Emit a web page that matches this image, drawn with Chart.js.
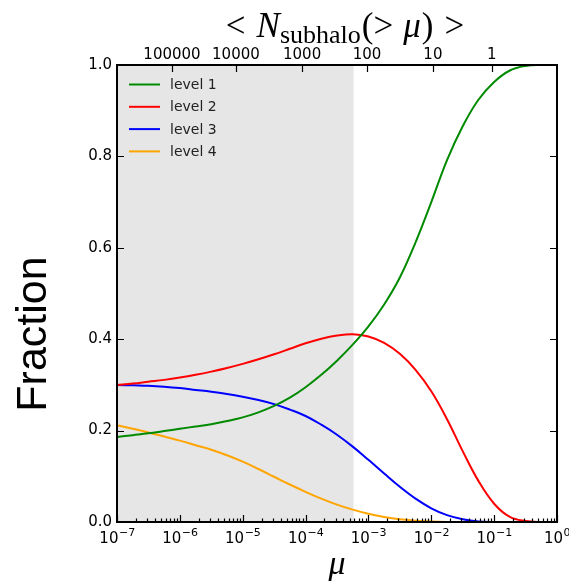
<!DOCTYPE html>
<html>
<head>
<meta charset="utf-8">
<script src="https://cdn.jsdelivr.net/npm/chart.js@4.4.1/dist/chart.umd.min.js"></script>
<style>
  html, body { margin: 0; padding: 0; background: #ffffff; }
  #contenedor { width: 569px; height: 583px; position: relative; }
</style>
</head>
<body>
<div id="contenedor"><canvas id="fraccionChart"></canvas></div>
<script>
// Valores de mu (eje x, escala logarítmica, cada 0.25 dex)
const MU = [1e-7, 1.78e-7, 3.16e-7, 5.62e-7,
            1e-6, 1.78e-6, 3.16e-6, 5.62e-6,
            1e-5, 1.78e-5, 3.16e-5, 5.62e-5,
            1e-4, 1.78e-4, 3.16e-4, 5.62e-4,
            1e-3, 1.78e-3, 3.16e-3, 5.62e-3,
            1e-2, 1.78e-2, 3.16e-2, 5.62e-2,
            1e-1, 1.78e-1, 3.16e-1, 5.62e-1, 1];

// Fracción por nivel
const LEVEL1 = [0.186, 0.190, 0.194, 0.199, 0.204, 0.209, 0.214, 0.221,
                0.229, 0.240, 0.254, 0.272, 0.295, 0.322, 0.353, 0.388,
                0.428, 0.476, 0.535, 0.612, 0.700, 0.792, 0.866, 0.924,
                0.963, 0.988, 0.998, 1.000, 1.000];
const LEVEL2 = [0.300, 0.303, 0.307, 0.311, 0.316, 0.322, 0.329, 0.337,
                0.346, 0.356, 0.367, 0.379, 0.391, 0.401, 0.408, 0.411,
                0.406, 0.392, 0.368, 0.333, 0.286, 0.225, 0.155, 0.090,
                0.040, 0.011, 0.002, 0.000, 0.000];
const LEVEL3 = [0.300, 0.299, 0.298, 0.296, 0.293, 0.289, 0.285, 0.280,
                0.274, 0.267, 0.258, 0.246, 0.232, 0.213, 0.191, 0.165,
                0.136, 0.106, 0.077, 0.051, 0.030, 0.015, 0.006, 0.001,
                0.000, 0.000, 0.000, 0.000, 0.000];
const LEVEL4 = [0.212, 0.204, 0.196, 0.187, 0.178, 0.168, 0.158, 0.146,
                0.132, 0.116, 0.099, 0.082, 0.066, 0.051, 0.038, 0.027,
                0.018, 0.011, 0.006, 0.003, 0.001, 0.000, 0.000, 0.000,
                0.000, 0.000, 0.000, 0.000, 0.000];

const SERIES = ['level 1', 'level 2', 'level 3', 'level 4'];
const COLORES = ['#008a00', '#ff0000', '#0000ff', '#ffa500'];

// Eje superior: <N_subhalo(> mu)> en la posición de mu correspondiente
const TOP_TICK_MU = [7.5e-7, 7.8e-6, 8.8e-5, 9.5e-4, 1.06e-2, 9.2e-2];
const TOP_TICK_LABELS = ['100000', '10000', '1000', '100', '10', '1'];

// Región sombreada
const SHADE_MIN = 1e-7;
const SHADE_MAX = 5.8e-4;

const Y_TICKS = [0, 0.2, 0.4, 0.6, 0.8, 1.0];
const X_EXPONENTES = [-7, -6, -5, -4, -3, -2, -1, 0];

function puntos(valores) {
    return MU.map((m, i) => ({ x: m, y: valores[i] }));
}

// Plugin: fondo, sombreado, marco, ticks hacia dentro, títulos y leyenda
const decoracion = {
    id: 'decoracion',
    beforeDraw(chart) {
        const ctx = chart.ctx;
        ctx.save();
        ctx.fillStyle = '#ffffff';
        ctx.fillRect(0, 0, chart.width, chart.height);
        ctx.restore();
    },
    beforeDatasetsDraw(chart) {
        const { ctx, chartArea, scales } = chart;
        const x0 = scales.x.getPixelForValue(SHADE_MIN);
        const x1 = scales.x.getPixelForValue(SHADE_MAX);
        ctx.save();
        ctx.fillStyle = '#e6e6e6';
        ctx.fillRect(x0, chartArea.top, x1 - x0, chartArea.bottom - chartArea.top);
        ctx.restore();
    },
    afterDraw(chart) {
        const { ctx, chartArea, scales } = chart;
        const { left, right, top, bottom } = chartArea;
        ctx.save();
        ctx.strokeStyle = '#000000';
        ctx.lineWidth = 1.2;
        ctx.beginPath();
        // ticks eje x inferior (mayores y menores)
        scales.x.ticks.forEach(t => {
            const px = Math.round(scales.x.getPixelForValue(t.value)) + 0.5;
            const largo = t.major ? 7 : 3.5;
            ctx.moveTo(px, bottom);
            ctx.lineTo(px, bottom - largo);
        });
        // ticks eje superior
        scales.x2.ticks.forEach(t => {
            const px = Math.round(scales.x2.getPixelForValue(t.value)) + 0.5;
            ctx.moveTo(px, top);
            ctx.lineTo(px, top + 7);
        });
        // ticks izquierda y derecha
        Y_TICKS.forEach(v => {
            const py = Math.round(scales.y.getPixelForValue(v)) + 0.5;
            ctx.moveTo(left, py);
            ctx.lineTo(left + 7, py);
            ctx.moveTo(right, py);
            ctx.lineTo(right - 7, py);
        });
        ctx.stroke();

        // marco
        ctx.lineWidth = 2;
        ctx.strokeRect(left, top, right - left, bottom - top);

        // etiquetas del eje x: 10 con exponente
        ctx.fillStyle = '#000000';
        ctx.textBaseline = 'alphabetic';
        ctx.textAlign = 'left';
        X_EXPONENTES.forEach(e => {
            const px = scales.x.getPixelForValue(Math.pow(10, e));
            const exp = e < 0 ? '\u2212' + Math.abs(e) : String(e);
            ctx.font = '15px "DejaVu Sans", sans-serif';
            const wBase = ctx.measureText('10').width;
            ctx.font = '11px "DejaVu Sans", sans-serif';
            const wExp = ctx.measureText(exp).width;
            const x0 = px - (wBase + wExp) / 2;
            ctx.font = '15px "DejaVu Sans", sans-serif';
            ctx.fillText('10', x0, 543);
            ctx.font = '11px "DejaVu Sans", sans-serif';
            ctx.fillText(exp, x0 + wBase + 0.5, 536);
        });

        // título del eje y
        ctx.save();
        ctx.translate(46, 334);
        ctx.rotate(-Math.PI / 2);
        ctx.font = '43px "Liberation Sans", "DejaVu Sans", sans-serif';
        ctx.textAlign = 'center';
        ctx.fillText('Fraction', 0, 0);
        ctx.restore();

        // título del eje x
        ctx.font = 'italic 34px "Liberation Serif", "DejaVu Serif", serif';
        ctx.textAlign = 'center';
        ctx.fillText('\u03BC', (left + right) / 2, 574);

        // título del eje superior: < N_subhalo(> mu) >
        ctx.textAlign = 'left';
        const serif = '"Liberation Serif", "DejaVu Serif", serif';
        const partes = [
            { t: '<', f: '35px ' + serif, dy: 0, gap: 11 },
            { t: 'N', f: 'italic 35px ' + serif, dy: 0, gap: 0 },
            { t: 'subhalo', f: '26px ' + serif, dy: 6, gap: 1 },
            { t: '(', f: '35px ' + serif, dy: 0, gap: 0 },
            { t: '>', f: '35px ' + serif, dy: 0, gap: 10 },
            { t: '\u03BC', f: 'italic 35px ' + serif, dy: 0, gap: 1 },
            { t: ')', f: '35px ' + serif, dy: 0, gap: 11 },
            { t: '>', f: '35px ' + serif, dy: 0, gap: 0 }
        ];
        let total = 0;
        partes.forEach(p => {
            ctx.font = p.f;
            p.w = ctx.measureText(p.t).width;
            total += p.w + p.gap;
        });
        let x = 345 - total / 2;
        partes.forEach(p => {
            ctx.font = p.f;
            ctx.fillText(p.t, x, 37 + p.dy);
            x += p.w + p.gap;
        });

        // leyenda dentro del área del gráfico
        ctx.font = '14px "DejaVu Sans", sans-serif';
        ctx.textBaseline = 'middle';
        SERIES.forEach((nombre, i) => {
            const y = 84.5 + i * 22.3;
            ctx.strokeStyle = COLORES[i];
            ctx.lineWidth = 2;
            ctx.beginPath();
            ctx.moveTo(129, y);
            ctx.lineTo(160, y);
            ctx.stroke();
            ctx.fillStyle = '#222222';
            ctx.fillText(nombre, 170, y + 1);
        });
        ctx.restore();
    }
};

function crearGrafico() {
    const ctx = document.getElementById('fraccionChart');
    const datasets = [LEVEL1, LEVEL2, LEVEL3, LEVEL4].map((valores, i) => ({
        label: SERIES[i],
        data: puntos(valores),
        borderColor: COLORES[i],
        backgroundColor: COLORES[i],
        borderWidth: 2,
        pointRadius: 0,
        tension: 0.4,
        fill: false
    }));

    const fuenteTicks = { family: '"DejaVu Sans", sans-serif', size: 15 };

    new Chart(ctx, {
        type: 'line',
        data: { datasets },
        options: {
            responsive: true,
            maintainAspectRatio: false,
            animation: false,
            layout: { padding: { left: 0, right: 12, top: 0, bottom: 0 } },
            plugins: {
                legend: { display: false },
                tooltip: { enabled: false }
            },
            scales: {
                x: {
                    type: 'logarithmic',
                    position: 'bottom',
                    min: 1e-7,
                    max: 1,
                    grid: { display: false, drawTicks: false },
                    border: { display: false },
                    afterBuildTicks(scale) {
                        const ticks = [];
                        X_EXPONENTES.forEach(e => {
                            for (let k = 1; k <= 9; k++) {
                                if (e === 0 && k > 1) break;
                                ticks.push({ value: k * Math.pow(10, e), major: k === 1 });
                            }
                        });
                        scale.ticks = ticks;
                    },
                    afterFit(scale) {
                        scale.height = 61;
                        scale.paddingLeft = 0;
                        scale.paddingRight = 0;
                    },
                    ticks: {
                        autoSkip: false,
                        maxRotation: 0,
                        callback: () => ''
                    }
                },
                x2: {
                    type: 'logarithmic',
                    position: 'top',
                    min: 1e-7,
                    max: 1,
                    grid: { display: false, drawTicks: false },
                    border: { display: false },
                    afterBuildTicks(scale) {
                        scale.ticks = TOP_TICK_MU.map(v => ({ value: v }));
                    },
                    afterFit(scale) {
                        scale.height = 65;
                        scale.paddingLeft = 0;
                        scale.paddingRight = 0;
                    },
                    ticks: {
                        autoSkip: false,
                        maxRotation: 0,
                        padding: 1,
                        color: '#000000',
                        font: fuenteTicks,
                        callback: function(value, index) {
                            return TOP_TICK_LABELS[index];
                        }
                    }
                },
                y: {
                    type: 'linear',
                    min: 0,
                    max: 1,
                    grid: { display: false, drawTicks: false },
                    border: { display: false },
                    afterBuildTicks(scale) {
                        scale.ticks = Y_TICKS.map(v => ({ value: v }));
                    },
                    afterFit(scale) {
                        scale.width = 117;
                    },
                    ticks: {
                        padding: 5,
                        color: '#000000',
                        font: fuenteTicks,
                        callback: function(value) {
                            return value.toFixed(1);
                        }
                    }
                }
            }
        },
        plugins: [decoracion]
    });
}

document.addEventListener('DOMContentLoaded', crearGrafico);
</script>
</body>
</html>
